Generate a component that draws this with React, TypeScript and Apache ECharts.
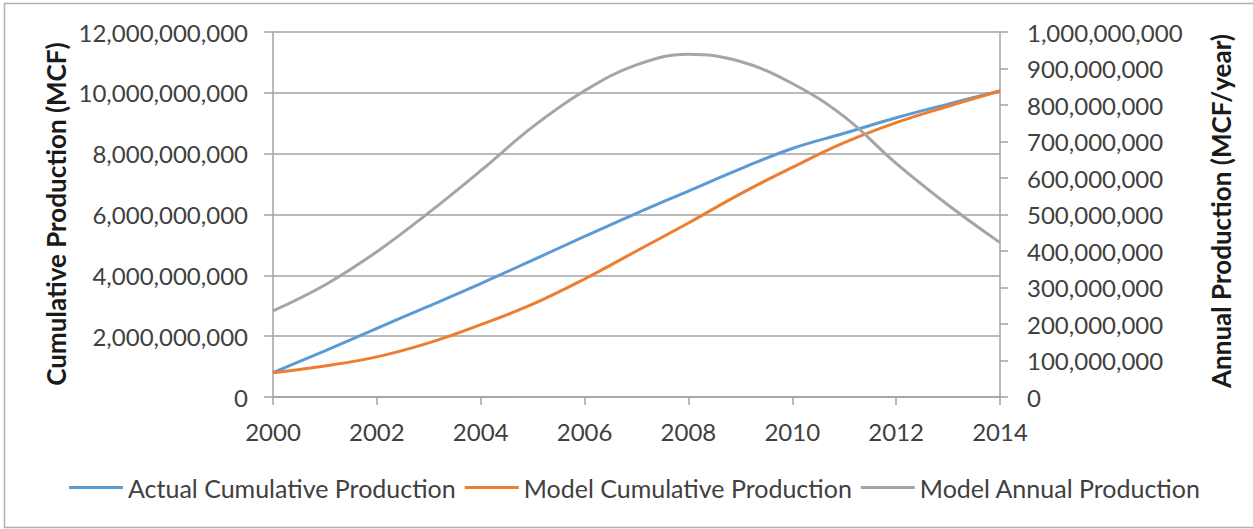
import React, { useEffect, useRef } from "react";
import * as echarts from "echarts";

const years = [2000, 2001, 2002, 2003, 2004, 2005, 2006, 2007, 2008, 2009, 2010, 2011, 2012, 2013, 2014];
const actualCumulative = [0.80e9, 1.52e9, 2.26e9, 2.99e9, 3.73e9, 4.50e9, 5.28e9, 6.04e9, 6.77e9, 7.50e9, 8.17e9, 8.67e9, 9.18e9, 9.63e9, 10.06e9];
const modelCumulative = [0.80e9, 1.02e9, 1.32e9, 1.78e9, 2.38e9, 3.05e9, 3.88e9, 4.80e9, 5.72e9, 6.68e9, 7.55e9, 8.36e9, 9.02e9, 9.56e9, 10.06e9];
const modelAnnual = [236e6, 307e6, 398e6, 505e6, 620e6, 740e6, 839e6, 910e6, 939e6, 919e6, 859e6, 768e6, 640e6, 526e6, 423e6];

const seriesNames = ["Actual Cumulative Production", "Model Cumulative Production", "Model Annual Production"];
const colors = ["#5B9BD5", "#ED7D31", "#A5A5A5"];
const leftTitle = "Cumulative Production (MCF)";
const rightTitle = "Annual Production (MCF/year)";

const FONT = "Lato";
const TEXT = "#404040";
const GRID = "#a3a3a3";

const fmt = (v: number) => Math.round(v).toLocaleString("en-US");

export default function App() {
  const ref = useRef<HTMLDivElement>(null);
  useEffect(() => {
    document.body.style.margin = "0";
    if (!ref.current) return;
    const chart = echarts.init(ref.current, undefined, { renderer: "svg" });
    const pair = (vals: number[]) => years.map((y, i) => [y, vals[i]]);
    chart.setOption({
      animation: false,
      backgroundColor: "#ffffff",
      textStyle: { fontFamily: FONT },
      grid: { left: 273, right: 253, top: 32, bottom: 132, containLabel: false },
      legend: {
        top: 475,
        left: 69,
        padding: 0,
        icon: "rect",
        itemWidth: 54,
        itemHeight: 3,
        itemGap: 9,
        textStyle: { fontFamily: FONT, fontSize: 25, color: TEXT },
        data: seriesNames,
      },
      xAxis: {
        type: "value",
        min: 2000,
        max: 2014,
        interval: 2,
        axisLine: { show: true, lineStyle: { color: GRID, width: 1.5 } },
        axisTick: { show: true, inside: false, length: 8, lineStyle: { color: GRID, width: 1.5 } },
        splitLine: { show: false },
        axisLabel: { color: TEXT, fontSize: 24, fontFamily: FONT, margin: 22, formatter: (v: number) => String(v) },
      },
      yAxis: [
        {
          type: "value",
          min: 0,
          max: 12e9,
          interval: 2e9,
          position: "left",
          axisLine: { show: true, lineStyle: { color: GRID, width: 1.5 } },
          axisTick: { show: true, inside: false, length: 9, lineStyle: { color: GRID, width: 1.5 } },
          splitLine: { show: true, lineStyle: { color: GRID, width: 1.5 } },
          axisLabel: { color: TEXT, fontSize: 24, fontFamily: FONT, margin: 25, formatter: fmt },
        },
        {
          type: "value",
          min: 0,
          max: 1e9,
          interval: 1e8,
          position: "right",
          axisLine: { show: true, lineStyle: { color: GRID, width: 1.5 } },
          axisTick: { show: true, inside: false, length: 8, lineStyle: { color: GRID, width: 1.5 } },
          splitLine: { show: false },
          axisLabel: { color: TEXT, fontSize: 24, fontFamily: FONT, margin: 27, formatter: fmt },
        },
      ],
      series: [
        { name: seriesNames[0], type: "line", yAxisIndex: 0, data: pair(actualCumulative), smooth: 0.4, symbol: "none", lineStyle: { color: colors[0], width: 3 }, itemStyle: { color: colors[0] } },
        { name: seriesNames[1], type: "line", yAxisIndex: 0, data: pair(modelCumulative), smooth: 0.4, symbol: "none", lineStyle: { color: colors[1], width: 3 }, itemStyle: { color: colors[1] } },
        { name: seriesNames[2], type: "line", yAxisIndex: 1, data: pair(modelAnnual), smooth: 0.4, symbol: "none", lineStyle: { color: colors[2], width: 3 }, itemStyle: { color: colors[2] } },
      ],
      graphic: [
        { type: "rect", shape: { x: 4.5, y: 3.5, width: 1252, height: 524 }, style: { fill: "none", stroke: "#b0b0b0", lineWidth: 1.5 }, silent: true },
        { type: "text", x: 56, y: 214, rotation: Math.PI / 2, style: { text: leftTitle, font: `bold 26px ${FONT}`, fill: "#1a1a1a", textAlign: "center", textVerticalAlign: "middle" } },
        { type: "text", x: 1221, y: 211, rotation: Math.PI / 2, style: { text: rightTitle, font: `bold 26px ${FONT}`, fill: "#1a1a1a", textAlign: "center", textVerticalAlign: "middle" } },
      ],
    });
    return () => chart.dispose();
  }, []);
  return <div ref={ref} style={{ width: 1253, height: 529 }} />;
}
